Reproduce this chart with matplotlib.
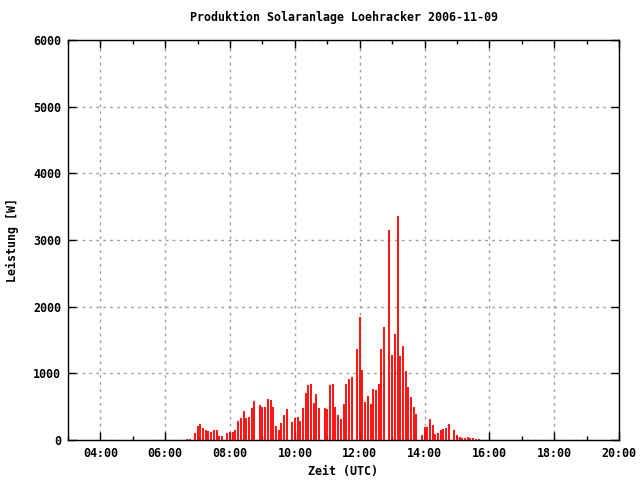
import matplotlib
matplotlib.use("Agg")
import matplotlib.pyplot as plt
from matplotlib.ticker import MultipleLocator, FuncFormatter

# Messzeitpunkte (UTC) und Leistung in W
zeiten = [
    "06:40", "06:45", "06:55", "07:00", "07:05", "07:10", "07:15", "07:20", "07:25", "07:30",
    "07:35", "07:40", "07:45", "07:55", "08:00", "08:05", "08:10", "08:15", "08:20", "08:25",
    "08:30", "08:35", "08:40", "08:45", "08:55", "09:00", "09:05", "09:10", "09:15", "09:20",
    "09:25", "09:30", "09:35", "09:40", "09:45", "09:55", "10:00", "10:05", "10:10", "10:15",
    "10:20", "10:25", "10:30", "10:35", "10:40", "10:45", "10:55", "11:00", "11:05", "11:10",
    "11:15", "11:20", "11:25", "11:30", "11:35", "11:40", "11:45", "11:55", "12:00", "12:05",
    "12:10", "12:15", "12:20", "12:25", "12:30", "12:35", "12:40", "12:45", "12:55", "13:00",
    "13:05", "13:10", "13:15", "13:20", "13:25", "13:30", "13:35", "13:40", "13:45", "13:55",
    "14:00", "14:05", "14:10", "14:15", "14:20", "14:25", "14:30", "14:35", "14:40", "14:45",
    "14:55", "15:00", "15:05", "15:10", "15:15", "15:20", "15:25", "15:30", "15:35", "15:40",
]
leistung = [
    20, 20, 110, 210, 240, 180, 150, 135, 120, 150,
    150, 60, 60, 100, 120, 120, 150, 285, 330, 435,
    330, 345, 480, 585, 525, 495, 495, 615, 600, 495,
    210, 150, 255, 375, 465, 270, 330, 345, 285, 480,
    705, 825, 840, 555, 690, 480, 480, 465, 825, 840,
    495, 375, 315, 540, 840, 915, 945, 1365, 1845, 1050,
    570, 660, 540, 765, 750, 840, 1365, 1695, 3150, 1275,
    1590, 3360, 1260, 1410, 1035, 795, 645, 495, 390, 75,
    195, 195, 315, 225, 90, 105, 150, 165, 180, 240,
    150, 75, 45, 30, 30, 45, 30, 30, 15, 15,
]

stunden = [int(z[:2]) + int(z[3:]) / 60 for z in zeiten]

font = dict(family="DejaVu Sans Mono", weight="bold", size=8.4)

fig = plt.figure(figsize=(6.4, 4.8), dpi=100)
ax = fig.add_axes([68 / 640, 40 / 480, 551 / 640, 400 / 480])

ax.vlines(stunden, 0, leistung, color="red", linewidth=1.3, zorder=3)

ax.set_xlim(3, 20)
ax.set_ylim(0, 6000)
ax.xaxis.set_major_locator(MultipleLocator(2))
ax.xaxis.set_minor_locator(MultipleLocator(1))
ax.yaxis.set_major_locator(MultipleLocator(1000))
ax.xaxis.set_major_formatter(FuncFormatter(lambda v, p: "%02d:00" % int(round(v))))

ax.grid(True, which="major", color="#a0a0a0", linestyle=(0, (2, 3)), linewidth=1)
ax.set_axisbelow(True)

ax.tick_params(which="both", direction="in", top=True, right=True, width=1)
ax.tick_params(which="major", length=6, pad=5)
ax.tick_params(which="minor", length=3)
for lbl in ax.get_xticklabels() + ax.get_yticklabels():
    lbl.set_fontproperties(matplotlib.font_manager.FontProperties(**font))
for s in ax.spines.values():
    s.set_linewidth(1)

ax.set_title("Produktion Solaranlage Loehracker 2006-11-09", pad=14, **font)
ax.set_xlabel("Zeit (UTC)", labelpad=4, **font)
ax.set_ylabel("Leistung [W]", labelpad=10, **font)

fig.savefig("out.png", dpi=100)
